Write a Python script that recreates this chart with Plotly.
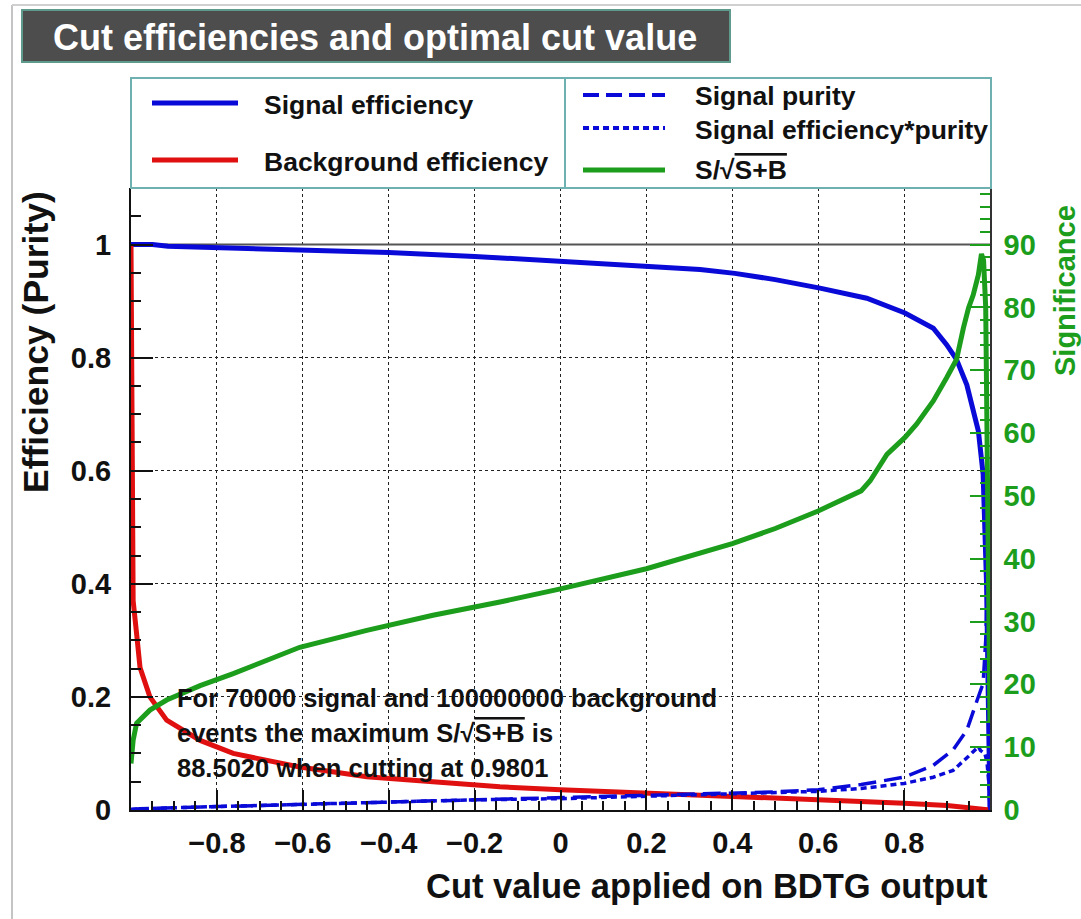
import plotly.graph_objects as go

# ---------------- data ----------------
sig_eff_x = [-1.0, -0.95, -0.914, -0.8, -0.6, -0.4, -0.2, 0.0, 0.2, 0.325, 0.406, 0.5, 0.604,
             0.713, 0.802, 0.868, 0.899, 0.922, 0.946, 0.961, 0.973, 0.984, 0.988, 0.992, 0.995,
             0.998, 1.0]
sig_eff_y = [1.000, 1.000, 0.997, 0.995, 0.991, 0.986, 0.979, 0.971, 0.962, 0.956, 0.949, 0.938,
             0.923, 0.905, 0.879, 0.852, 0.823, 0.797, 0.752, 0.711, 0.670, 0.594, 0.52, 0.40,
             0.25, 0.08, 0.0]

bkg_eff_x = [-1.0, -0.9995, -0.998, -0.995, -0.987, -0.979, -0.956, -0.917, -0.839, -0.762,
             -0.607, -0.451, -0.297, -0.141, 0.0, 0.2, 0.4, 0.5, 0.6, 0.7, 0.8, 0.9, 0.95, 0.97,
             0.99, 1.0]
bkg_eff_y = [1.0, 0.87, 0.55, 0.37, 0.312, 0.252, 0.20, 0.159, 0.123, 0.10, 0.076, 0.059, 0.050,
             0.041, 0.036, 0.030, 0.026, 0.023, 0.018, 0.015, 0.012, 0.008, 0.005, 0.003, 0.001,
             0.0]

purity_x = [-1.0, -0.98, -0.9, -0.8, -0.6, -0.4, -0.2, 0.0, 0.2, 0.4, 0.5, 0.6, 0.7, 0.8, 0.868,
            0.914, 0.946, 0.97, 0.984, 0.99, 0.995, 0.999]
purity_y = [0.001, 0.002, 0.004, 0.006, 0.009, 0.013, 0.018, 0.021, 0.025, 0.030, 0.032, 0.036,
            0.045, 0.058, 0.079, 0.106, 0.141, 0.194, 0.224, 0.30, 0.42, 0.50]

effpur_x = [-1.0, -0.98, -0.9, -0.8, -0.6, -0.4, -0.2, 0.0, 0.2, 0.4, 0.5, 0.6, 0.7, 0.8, 0.868,
            0.914, 0.95, 0.973, 0.978, 0.988, 0.993, 0.997, 1.0]
effpur_y = [0.001, 0.002, 0.004, 0.006, 0.009, 0.013, 0.018, 0.020, 0.024, 0.028, 0.030, 0.033,
            0.038, 0.047, 0.058, 0.070, 0.095, 0.112, 0.105, 0.10, 0.085, 0.05, 0.0]

signif_x = [-1.0, -0.995, -0.987, -0.956, -0.917, -0.839, -0.762, -0.607, -0.451, -0.297, -0.141,
            0.0, 0.2, 0.4, 0.5, 0.6, 0.7, 0.721, 0.76, 0.802, 0.829, 0.868, 0.899, 0.922, 0.938,
            0.95, 0.961, 0.973, 0.9801, 0.985, 0.99, 0.993, 0.996, 0.999, 1.0]
signif_y = [7.4, 11.1, 13.8, 15.9, 17.5, 19.8, 21.7, 25.9, 28.6, 31.0, 33.1, 35.2, 38.4, 42.4,
            44.8, 47.6, 50.8, 52.4, 56.6, 59.3, 61.4, 65.1, 68.8, 71.7, 76.7, 79.9, 82.0, 85.2,
            88.5, 87.5, 80.0, 60.0, 35.0, 15.0, 14.0]

x_tick_vals = [-0.8, -0.6, -0.4, -0.2, 0.0, 0.2, 0.4, 0.6, 0.8]
y_tick_vals = [0, 0.2, 0.4, 0.6, 0.8, 1.0]
y2_tick_vals = [0, 10, 20, 30, 40, 50, 60, 70, 80, 90]

info_lines = ["For 70000 signal and 100000000 background",
              "events the maximum S/√<span style='text-decoration:overline'>S+B</span> is",
              "88.5020 when cutting at 0.9801"]

# ---------------- styling ----------------
W, H = 1081, 919
L, R, T, B = 131, 990, 188, 810
FONT = "Liberation Sans, Arial, Helvetica, sans-serif"
BLUE = "#0a0ad8"
RED = "#e01010"
GREEN = "#1c9e1c"
TEAL = "#6fb0b0"


def px(x):
    return (x - L) / (R - L)


def py(y):
    return (B - y) / (B - T)


fig = go.Figure()
fig.add_trace(go.Scatter(x=sig_eff_x, y=sig_eff_y, mode="lines",
                         line=dict(color=BLUE, width=5), name="Signal efficiency"))
fig.add_trace(go.Scatter(x=bkg_eff_x, y=bkg_eff_y, mode="lines",
                         line=dict(color=RED, width=5), name="Background efficiency"))
fig.add_trace(go.Scatter(x=purity_x, y=purity_y, mode="lines",
                         line=dict(color=BLUE, width=3.5, dash="18px,8px"), name="Signal purity"))
fig.add_trace(go.Scatter(x=effpur_x, y=effpur_y, mode="lines",
                         line=dict(color=BLUE, width=3.5, dash="6px,4px"),
                         name="Signal efficiency*purity"))
fig.add_trace(go.Scatter(x=signif_x, y=signif_y, mode="lines", yaxis="y2",
                         line=dict(color=GREEN, width=5), name="S/√S+B"))

shapes = []
annotations = []

# outer light frame
shapes.append(dict(type="line", xref="paper", yref="paper", x0=px(12), x1=px(12), y0=py(5), y1=py(919),
                   line=dict(color="#c4c4c4", width=2)))
shapes.append(dict(type="line", xref="paper", yref="paper", x0=px(12), x1=px(1081), y0=py(5), y1=py(5),
                   line=dict(color="#d0d0d0", width=2)))

# title box
shapes.append(dict(type="rect", xref="paper", yref="paper", x0=px(22), x1=px(730), y0=py(62), y1=py(10),
                   fillcolor="#4d4d4d", line=dict(color="#5f9a8c", width=2)))
annotations.append(dict(xref="paper", yref="paper", x=px(51), y=py(37), xanchor="left", yanchor="middle",
                        text="Cut efficiencies and optimal cut value", showarrow=False,
                        font=dict(family=FONT, size=36, color="white", weight="bold")))

# legend box
shapes.append(dict(type="rect", xref="paper", yref="paper", x0=px(131), x1=px(991), y0=py(188), y1=py(78),
                   fillcolor="white", line=dict(color=TEAL, width=2)))
shapes.append(dict(type="line", xref="paper", yref="paper", x0=px(565), x1=px(565), y0=py(188), y1=py(78),
                   line=dict(color=TEAL, width=2)))

legend_items = [
    (152, 238, 103, 262, 105, "Signal efficiency", BLUE, "solid", 5),
    (152, 238, 160, 262, 162, "Background efficiency", RED, "solid", 5),
    (583, 665, 95, 693, 96, "Signal purity", BLUE, "16px,7px", 4),
    (583, 665, 128, 693, 130, "Signal efficiency*purity", BLUE, "6px,4px", 4),
    (583, 665, 170, 693, 170, "S/√<span style='text-decoration:overline'>S+B</span>", GREEN, "solid", 5),
]
for x0, x1, ly, tx, ty, label, col, dash, wd in legend_items:
    shapes.append(dict(type="line", xref="paper", yref="paper", x0=px(x0), x1=px(x1), y0=py(ly), y1=py(ly),
                       line=dict(color=col, width=wd, dash=dash)))
    annotations.append(dict(xref="paper", yref="paper", x=px(tx), y=py(ty), xanchor="left",
                            yanchor="middle", text=label, showarrow=False,
                            font=dict(family=FONT, size=26.5, color="#111111", weight="bold")))

# horizontal reference line at efficiency 1
shapes.append(dict(type="line", xref="x", yref="y", x0=-1, x1=1, y0=1, y1=1, layer="between",
                   line=dict(color="#555555", width=2)))

# info text
for i, line in enumerate(info_lines):
    annotations.append(dict(xref="paper", yref="paper", x=px(175), y=py(698 + 35 * i), xanchor="left",
                            yanchor="middle", text=line, showarrow=False,
                            font=dict(family=FONT, size=25.5, color="#111111", weight="bold")))

# axis titles
annotations.append(dict(xref="paper", yref="paper", x=px(990), y=py(886), xanchor="right", yanchor="middle",
                        text="Cut value applied on BDTG output", showarrow=False,
                        font=dict(family=FONT, size=34.5, color="#111111", weight="bold")))
annotations.append(dict(xref="paper", yref="paper", x=px(36), y=py(342), xanchor="center", yanchor="middle",
                        text="Efficiency (Purity)", showarrow=False, textangle=-90,
                        font=dict(family=FONT, size=35.5, color="#111111", weight="bold")))
annotations.append(dict(xref="paper", yref="paper", x=px(1065), y=py(291), xanchor="center", yanchor="middle",
                        text="Significance", showarrow=False, textangle=-90,
                        font=dict(family=FONT, size=29, color=GREEN, weight="bold")))

tickfont = dict(family=FONT, size=29, color="#111111", weight="bold")

fig.update_layout(
    width=W, height=H,
    margin=dict(l=L, r=W - R, t=T, b=H - B, pad=0),
    paper_bgcolor="white", plot_bgcolor="white",
    showlegend=False,
    shapes=shapes, annotations=annotations,
    xaxis=dict(range=[-1, 1], tickmode="array", tickvals=x_tick_vals, ticks="inside",
               ticklen=20, tickwidth=1.5, tickcolor="#111111", tickfont=tickfont,
               ticklabelstandoff=6,
               showline=True, linecolor="#111111", linewidth=2, zeroline=False,
               showgrid=True, gridcolor="#222222", griddash="dot", gridwidth=1.3,
               minor=dict(tickmode="linear", tick0=-1, dtick=0.05, ticks="inside", ticklen=9,
                          tickwidth=1.5, tickcolor="#111111", showgrid=False)),
    yaxis=dict(range=[0, 1.1], tickmode="array", tickvals=y_tick_vals, ticks="inside",
               ticklen=22, tickwidth=1.5, tickcolor="#111111", tickfont=tickfont,
               ticklabelstandoff=12,
               showline=True, linecolor="#111111", linewidth=2, zeroline=False,
               showgrid=True, gridcolor="#222222", griddash="dot", gridwidth=1.3,
               minor=dict(tickmode="linear", tick0=0, dtick=0.05, ticks="inside", ticklen=10,
                          tickwidth=1.5, tickcolor="#111111", showgrid=False)),
    yaxis2=dict(range=[0, 99], overlaying="y", side="right", anchor="x", tickmode="array",
                tickvals=y2_tick_vals, ticks="inside", ticklen=20, tickwidth=1.5, tickcolor=GREEN,
                tickfont=dict(family=FONT, size=29, color=GREEN, weight="bold"),
                ticklabelstandoff=6,
                showline=True, linecolor="#333333", linewidth=1.5, zeroline=False, showgrid=False,
                minor=dict(tickmode="linear", tick0=0, dtick=2, ticks="inside", ticklen=10,
                           tickwidth=1.5, tickcolor=GREEN, showgrid=False)),
)

fig.write_html("out.html")
